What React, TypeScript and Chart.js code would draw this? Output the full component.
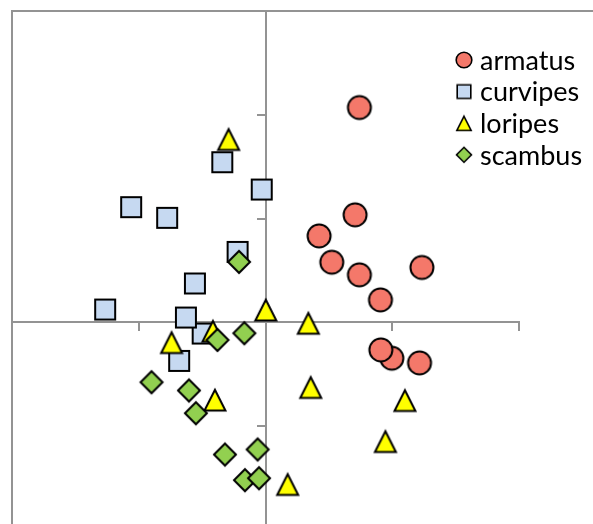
import { useEffect, useRef } from "react";
import { Chart, registerables } from "chart.js";

Chart.register(...registerables);

// ---- data ----
const seriesNames = ["armatus", "curvipes", "loripes", "scambus"];

const armatusX = [0.741, 0.707, 0.423, 0.523, 0.741, 1.234, 0.907, 0.997, 0.910, 1.215];
const armatusY = [2.070, 1.036, 0.833, 0.580, 0.458, 0.529, 0.217, -0.345, -0.265, -0.390];

const curvipesX = [-0.341, -0.030, -1.060, -0.776, -0.220, -0.557, -0.496, -0.628, -0.681, -1.265];
const curvipesY = [1.543, 1.280, 1.110, 1.007, 0.679, 0.375, -0.107, 0.047, -0.371, 0.124];

const loripesX = [-0.291, 0.002, -0.741, -0.415, -0.399, 0.338, 0.357, 1.100, 0.946, 0.175];
const loripesY = [1.763, 0.120, -0.194, -0.085, -0.748, -0.008, -0.626, -0.752, -1.147, -1.561];

const scambusX = [-0.209, -0.379, -0.167, -0.899, -0.604, -0.549, -0.320, -0.062, -0.162, -0.051];
const scambusY = [0.583, -0.169, -0.104, -0.576, -0.656, -0.875, -1.273, -1.224, -1.520, -1.501];

const xMin = -2, xMax = 2;
const yMin = -2, yMax = 3;

// ---- styles ----
const fills = ["#F4786A", "#C6D9F1", "#FFFF00", "#92D050"];
const shapes = ["circle", "square", "triangle", "diamond"];
const AXIS_GRAY = "#939393";

function makeMarker(shape: string, fill: string, scale: number, lw: number) {
  const size = Math.round(32 * scale / 2) * 2;
  const c = document.createElement("canvas");
  c.width = size;
  c.height = size;
  const ctx = c.getContext("2d")!;
  const m = size / 2;
  ctx.beginPath();
  if (shape === "circle") {
    ctx.arc(m, m, 11.5 * scale, 0, Math.PI * 2);
  } else if (shape === "square") {
    ctx.rect(m - 10 * scale, m - 10 * scale, 20 * scale, 20 * scale);
  } else if (shape === "triangle") {
    ctx.moveTo(m, m - 10.2 * scale);
    ctx.lineTo(m + 10.5 * scale, m + 10.6 * scale);
    ctx.lineTo(m - 10.5 * scale, m + 10.6 * scale);
    ctx.closePath();
  } else {
    ctx.moveTo(m, m - 11 * scale);
    ctx.lineTo(m + 11 * scale, m);
    ctx.lineTo(m, m + 11 * scale);
    ctx.lineTo(m - 11 * scale, m);
    ctx.closePath();
  }
  ctx.fillStyle = fill;
  ctx.fill();
  ctx.lineWidth = lw;
  ctx.strokeStyle = "#000";
  ctx.lineJoin = "miter";
  ctx.stroke();
  return c;
}

const frameLegendPlugin = {
  id: "frameLegend",
  beforeDraw(chart: any) {
    const { ctx, chartArea, width, height } = chart;
    ctx.save();
    ctx.strokeStyle = AXIS_GRAY;
    ctx.lineWidth = 2;
    ctx.beginPath();
    ctx.moveTo(chartArea.left, height);
    ctx.lineTo(chartArea.left, chartArea.top);
    ctx.lineTo(width, chartArea.top);
    ctx.stroke();
    ctx.restore();
  },
  afterDraw(chart: any) {
    const { ctx } = chart;
    const markers = chart.options.plugins.frameLegend.markers;
    ctx.save();
    ctx.font = "27px Lato";
    ctx.fillStyle = "#000";
    ctx.textBaseline = "middle";
    ctx.textAlign = "left";
    chart.data.datasets.forEach((ds: any, i: number) => {
      const y = 60 + i * 31.6;
      const img = markers[i];
      ctx.drawImage(img, 464 - img.width / 2, y - img.height / 2);
      ctx.fillText(ds.label, 480, y + 1);
    });
    ctx.restore();
  },
};

function toPoints(xs: number[], ys: number[]) {
  return xs.map((x, i) => ({ x, y: ys[i] }));
}

export default function App() {
  const ref = useRef<HTMLCanvasElement | null>(null);

  useEffect(() => {
    if (!ref.current) return;
    const xsAll = [armatusX, curvipesX, loripesX, scambusX];
    const ysAll = [armatusY, curvipesY, loripesY, scambusY];
    const pointImgs = shapes.map((s, i) => makeMarker(s, fills[i], 1, 2));
    const legendImgs = shapes.map((s, i) => makeMarker(s, fills[i], 0.68, 1.6));

    const datasets = seriesNames.map((name, i) => ({
      label: name,
      data: toPoints(xsAll[i], ysAll[i]),
      pointStyle: pointImgs[i],
      pointRadius: 12,
      backgroundColor: fills[i],
      borderColor: "#000",
      order: 3 - i,
    }));

    const chart = new Chart(ref.current, {
      type: "scatter",
      data: { datasets },
      options: {
        animation: false,
        responsive: false,
        devicePixelRatio: 1,
        layout: { autoPadding: false, padding: { left: 12, top: 11, right: 74, bottom: 0 } },
        plugins: {
          legend: { display: false },
          tooltip: { enabled: false },
          frameLegend: { markers: legendImgs },
        } as any,
        scales: {
          x: {
            type: "linear",
            min: xMin,
            max: xMax,
            position: { y: 0 } as any,
            afterFit: (s: any) => { s.height = 0; },
            ticks: { display: false, stepSize: 1, includeBounds: false },
            grid: { drawOnChartArea: false, drawTicks: true, tickLength: 8, color: AXIS_GRAY, lineWidth: 2 },
            border: { display: true, color: AXIS_GRAY, width: 2 },
          },
          y: {
            type: "linear",
            min: yMin,
            max: yMax,
            position: { x: 0 } as any,
            afterFit: (s: any) => { s.width = 0; },
            ticks: { display: false, stepSize: 1, includeBounds: false },
            grid: { drawOnChartArea: false, drawTicks: true, tickLength: 8, color: AXIS_GRAY, lineWidth: 2 },
            border: { display: true, color: AXIS_GRAY, width: 2 },
          },
        },
      },
      plugins: [frameLegendPlugin],
    });
    return () => chart.destroy();
  }, []);

  return (
    <div style={{ position: "fixed", left: 0, top: 0, width: 593, height: 524, overflow: "hidden", background: "#fff" }}>
      <canvas ref={ref} width={593} height={530} style={{ display: "block", width: 593, height: 530 }} />
    </div>
  );
}
